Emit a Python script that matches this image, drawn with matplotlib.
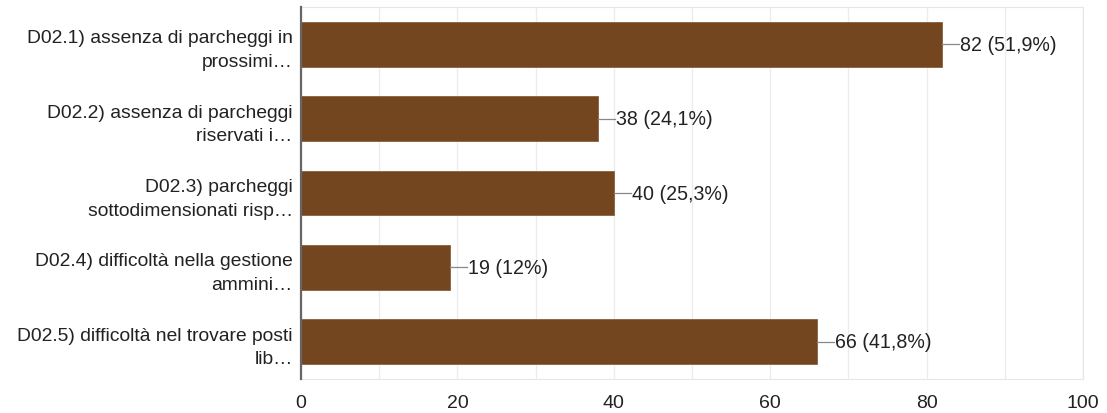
import matplotlib.pyplot as plt

plt.rcParams['font.family'] = ['Liberation Sans', 'DejaVu Sans']

labels = [
    "D02.1) assenza di parcheggi in\nprossimi…",
    "D02.2) assenza di parcheggi\nriservati i…",
    "D02.3) parcheggi\nsottodimensionati risp…",
    "D02.4) difficoltà nella gestione\nammini…",
    "D02.5) difficoltà nel trovare posti\nlib…",
]
counts = [82, 38, 40, 19, 66]
percents = ["51,9%", "24,1%", "25,3%", "12%", "41,8%"]
xticks = [0, 20, 40, 60, 80, 100]

bar_color = "#74461F"
text_color = "#222222"

fig = plt.figure(figsize=(11.07, 4.14), dpi=100)
ax = fig.add_axes([0.2719, 0.0821, 0.7064, 0.8986])

ypos = list(range(len(labels)))
ax.barh(ypos, counts, height=0.6, color=bar_color, edgecolor="#8a6040",
        linewidth=0.6, zorder=3)

# value labels with a short leader line
for y, c, p in zip(ypos, counts, percents):
    ax.plot([c, c + 2.2], [y, y], color="#888888", lw=0.9, zorder=3)
    ax.text(c + 2.3, y, f"{c} ({p})", va="center", ha="left",
            fontsize=14.1, color=text_color, zorder=4)

ax.set_xlim(0, 100)
ax.set_ylim(4.5, -0.5)
ax.set_xticks(xticks)
ax.set_xticks(range(10, 100, 20), minor=True)
ax.set_yticks(ypos)
ax.set_yticklabels(labels, fontsize=13.9, color=text_color, linespacing=1.5)
ax.tick_params(axis="x", labelsize=14, labelcolor=text_color, length=0, pad=11)
ax.tick_params(axis="x", which="minor", length=0)
ax.tick_params(axis="y", length=0, pad=6)

ax.grid(axis="x", which="both", color="#ececec", lw=0.9, zorder=0)

for side in ["top", "right", "bottom"]:
    ax.spines[side].set_color("#e6e6e6")
ax.spines["left"].set_color("#666666")
ax.spines["left"].set_linewidth(1.6)
ax.spines["left"].set_zorder(5)

fig.savefig("out.png", dpi=100)
